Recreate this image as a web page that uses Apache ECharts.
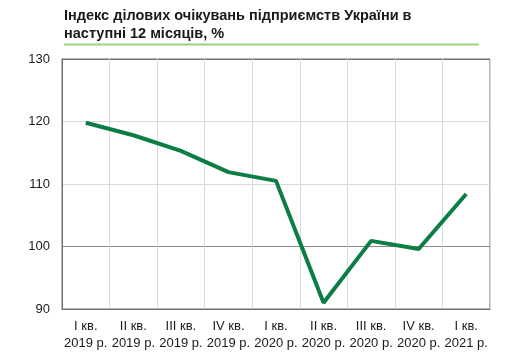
<!DOCTYPE html>
<html>
<head>
<meta charset="utf-8">
<script src="https://cdn.jsdelivr.net/npm/echarts@6/dist/echarts.min.js"></script>
<style>
  html, body { margin: 0; padding: 0; background: #fff; }
  #chart { width: 530px; height: 354px; }
</style>
</head>
<body>
<div id="chart"></div>
<script>
const quarters = ['I кв.', 'II кв.', 'III кв.', 'IV кв.', 'I кв.', 'II кв.', 'III кв.', 'IV кв.', 'I кв.'];
const years = ['2019 р.', '2019 р.', '2019 р.', '2019 р.', '2020 р.', '2020 р.', '2020 р.', '2020 р.', '2021 р.'];
const indexValues = [119.8, 117.8, 115.3, 111.9, 110.5, 91.0, 100.9, 99.6, 108.4];

const categories = quarters.map((q, i) => q + '\n' + years[i]);
const chart = echarts.init(document.getElementById('chart'));

chart.setOption({
  animation: false,
  textStyle: { fontFamily: 'Liberation Sans, Arial, sans-serif' },
  title: {
    text: 'Індекс ділових очікувань підприємств України в\nнаступні 12 місяців, %',
    left: 64,
    top: 7,
    padding: 0,
    textStyle: { fontSize: 14.5, fontWeight: 'bold', color: '#1a1a1a', lineHeight: 18 }
  },
  graphic: [{
    type: 'line',
    shape: { x1: 64, y1: 44.5, x2: 479, y2: 44.5 },
    style: { stroke: '#9fd07e', lineWidth: 2 }
  }],
  grid: {
    left: 62, right: 40, top: 59, bottom: 45,
    show: true, borderColor: '#6e6e6e', borderWidth: 1
  },
  xAxis: {
    type: 'category',
    data: categories,
    boundaryGap: true,
    axisLine: { lineStyle: { color: '#6e6e6e' } },
    axisTick: { show: false },
    axisLabel: { color: '#1a1a1a', fontSize: 13, lineHeight: 17, margin: 9, interval: 0 },
    splitLine: { show: true, lineStyle: { color: '#d9d9d9' } }
  },
  yAxis: {
    type: 'value',
    min: 90, max: 130, interval: 10,
    axisLine: { show: true, lineStyle: { color: '#6e6e6e' } },
    axisTick: { show: false },
    axisLabel: { color: '#1a1a1a', fontSize: 13, margin: 12 },
    splitLine: { show: true, lineStyle: { color: ['#6e6e6e', '#8a8a8a', '#d9d9d9', '#d9d9d9', '#6e6e6e'] } }
  },
  series: [{
    type: 'line',
    data: indexValues,
    symbol: 'none',
    lineStyle: { color: '#0b7d45', width: 4 }
  }]
});
</script>
</body>
</html>
